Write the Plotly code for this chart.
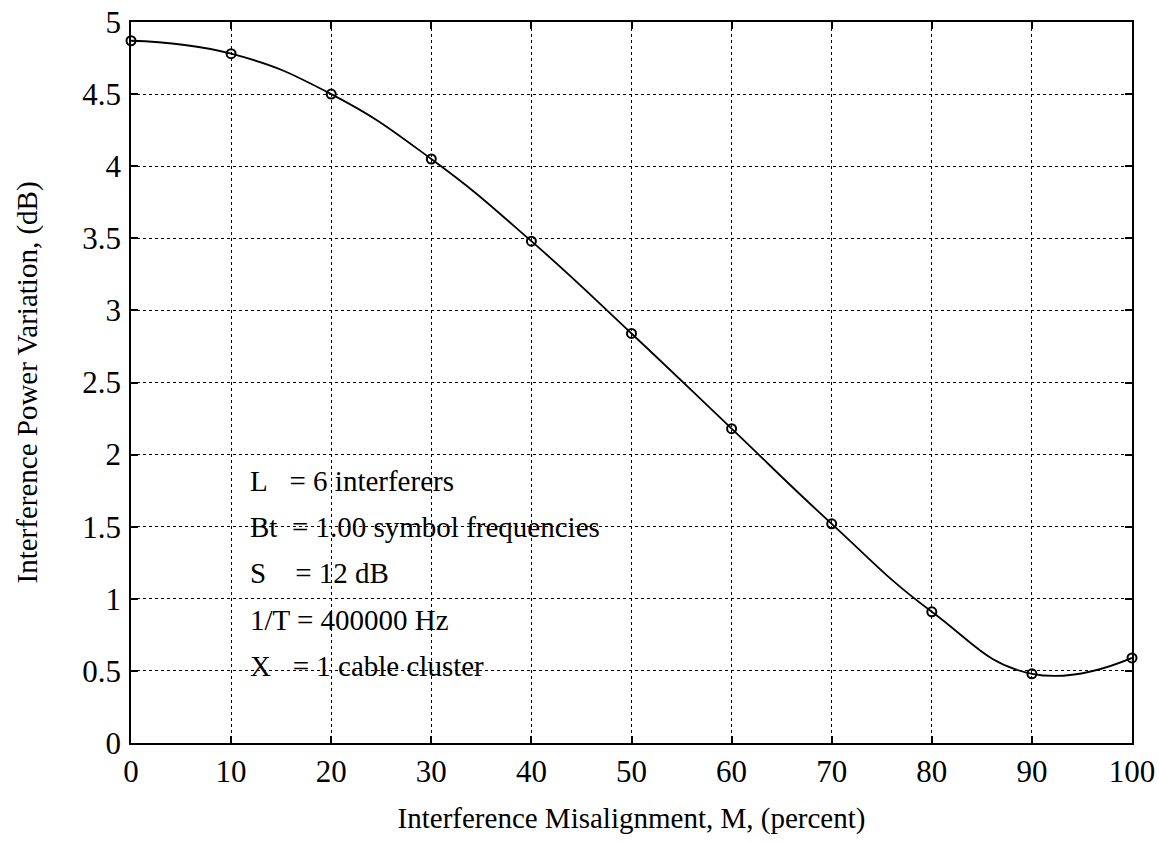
import plotly.graph_objects as go

# Misalignment (percent) and measured interference power variation (dB)
misalignment = [0, 10, 20, 30, 40, 50, 60, 70, 80, 90, 100]
power_variation = [4.87, 4.78, 4.50, 4.05, 3.48, 2.84, 2.18, 1.52, 0.91, 0.48, 0.59]

x_ticks = [0, 10, 20, 30, 40, 50, 60, 70, 80, 90, 100]
y_ticks = [0, 0.5, 1, 1.5, 2, 2.5, 3, 3.5, 4, 4.5, 5]
y_tick_text = ["0", "0.5", "1", "1.5", "2", "2.5", "3", "3.5", "4", "4.5", "5"]

# Parameter legend lines
param_lines = [
    "L\u00a0\u00a0\u00a0= 6 interferers",
    "Bt\u00a0\u00a0= 1.00 symbol frequencies",
    "S\u00a0\u00a0\u00a0\u00a0= 12 dB",
    "1/T = 400000 Hz",
    "X\u00a0\u00a0\u00a0= 1 cable cluster",
]

FONT = "Liberation Serif, Times New Roman, serif"

fig = go.Figure()
fig.add_trace(go.Scatter(
    x=misalignment, y=power_variation,
    mode="lines+markers",
    line=dict(color="black", width=1.8, shape="spline", smoothing=1.3),
    marker=dict(symbol="circle-open", size=9, color="black", line=dict(width=2)),
    showlegend=False, cliponaxis=False,
))

for i, txt in enumerate(param_lines):
    fig.add_annotation(
        x=11.7, y=1.82 - i * 0.322, xref="x", yref="y",
        text=txt, showarrow=False, xanchor="left", yanchor="middle",
        font=dict(family=FONT, size=29, color="black"),
    )

axis_common = dict(
    showline=True, linecolor="black", linewidth=1.5, mirror="ticks",
    ticks="inside", ticklen=7, tickcolor="black", tickwidth=1.5,
    showgrid=True, gridcolor="black", griddash="dot", gridwidth=1,
    zeroline=False, automargin=False,
    tickfont=dict(family=FONT, size=31, color="black"),
)

fig.update_xaxes(
    range=[0, 100], tickvals=x_ticks,
    title=dict(text="Interference Misalignment, M, (percent)",
               font=dict(family=FONT, size=29, color="black"), standoff=20),
    **axis_common,
)
fig.update_yaxes(
    range=[0, 5], tickvals=y_ticks, ticktext=y_tick_text,
    title=dict(text="Interference Power Variation, (dB)",
               font=dict(family=FONT, size=29, color="black"), standoff=36),
    ticklabelstandoff=2,
    **axis_common,
)

fig.update_layout(
    width=1159, height=842,
    margin=dict(l=131, r=27, t=22, b=99),
    paper_bgcolor="white", plot_bgcolor="white",
)

fig.write_html("out.html")
